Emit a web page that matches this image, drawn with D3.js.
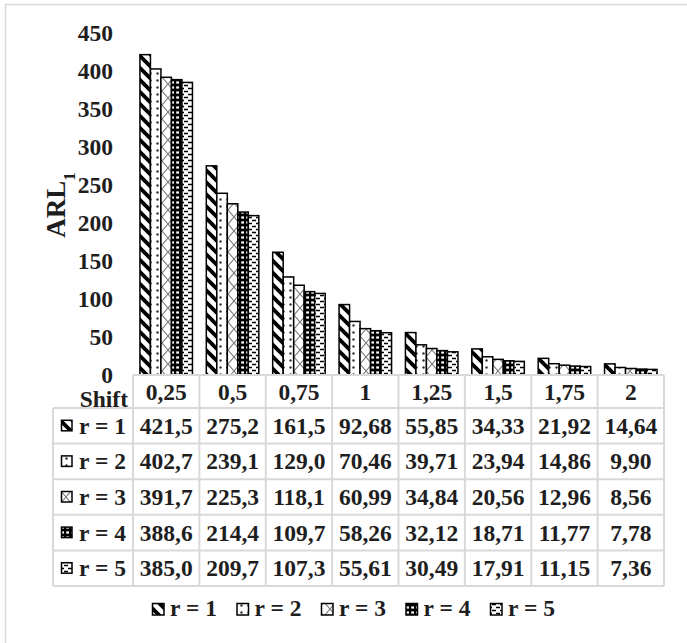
<!DOCTYPE html>
<html><head><meta charset="utf-8">
<script src="https://cdn.jsdelivr.net/npm/d3@7"></script>
<style>
html,body{margin:0;padding:0;background:#fff;overflow:hidden;}
svg{display:block;}
text{font-family:"Liberation Serif","Times New Roman",serif;font-weight:bold;fill:#1e1e1e;}
</style></head>
<body><svg id="c" width="687" height="643"></svg>
<script>
const categories = ["0,25","0,5","0,75","1","1,25","1,5","1,75","2"];
const seriesNames = ["r = 1","r = 2","r = 3","r = 4","r = 5"];
const r1 = [421.5,275.2,161.5,92.68,55.85,34.33,21.92,14.64];
const r2 = [402.7,239.1,129.0,70.46,39.71,23.94,14.86,9.90];
const r3 = [391.7,225.3,118.1,60.99,34.84,20.56,12.96,8.56];
const r4 = [388.6,214.4,109.7,58.26,32.12,18.71,11.77,7.78];
const r5 = [385.0,209.7,107.3,55.61,30.49,17.91,11.15,7.36];
const yTicks = [0,50,100,150,200,250,300,350,400,450];
const seriesValues = [r1,r2,r3,r4,r5];

const svg = d3.select("#c");
const fmt = v => (v >= 100 ? v.toFixed(1) : v.toFixed(2)).replace(".", ",");
const FS = "23.5px";

// patterns
const defs = svg.append("defs");
function pat(id, w, h, build){
  const p = defs.append("pattern").attr("id", id).attr("patternUnits","userSpaceOnUse")
    .attr("width", w).attr("height", h);
  build(p);
}
pat("p1", 12, 12, p => {
  p.append("rect").attr("width",12).attr("height",12).attr("fill","#fff");
  p.append("path").attr("d","M-3,-3L15,15M-3,9L3,15M9,-3L15,3").attr("stroke","#000").attr("stroke-width",3.8);
});
pat("p2", 7, 7, p => {
  p.append("rect").attr("width",7).attr("height",7).attr("fill","#fff");
  p.append("circle").attr("cx",3.5).attr("cy",3.5).attr("r",1.2).attr("fill","#333");
});
pat("p3", 12, 14, p => {
  p.append("rect").attr("width",12).attr("height",14).attr("fill","#fff");
  p.append("path").attr("d","M0,0L12,14M12,0L0,14").attr("stroke","#777").attr("stroke-width",1.1);
});
pat("p4", 5, 5, p => {
  p.append("rect").attr("width",5).attr("height",5).attr("fill","#000");
  p.append("rect").attr("x",1.2).attr("y",1.4).attr("width",2.8).attr("height",2.2).attr("fill","#fff");
});
pat("p5", 8, 6, p => {
  p.append("rect").attr("width",8).attr("height",6).attr("fill","#fff");
  p.append("path").attr("d","M0,1.5H4M4,4.5H8").attr("stroke","#000").attr("stroke-width",1.4);
});
const patIds = ["p1","p2","p3","p4","p5"];

// outer border (top and left only visible)
svg.append("path").attr("d","M687,4.5H5.5V643")
  .attr("fill","none").attr("stroke","#d9d9d9").attr("stroke-width",1.5);

const tableLeft = 53, colStart = 133, colEnd = 664;
const x0 = d3.scaleBand().domain(categories).range([colStart, colEnd]).padding(0);
const x1 = d3.scaleBand().domain(seriesNames).range([0, x0.bandwidth()]).paddingInner(0).paddingOuter(0.66);
const y = d3.scaleLinear().domain([0,450]).range([375,33]);

// y axis labels
const yAxis = d3.axisLeft(y).tickValues(yTicks).tickSize(0).tickPadding(0);
const gy = svg.append("g").attr("transform","translate(113,0)").call(yAxis);
gy.select(".domain").remove();
gy.selectAll("text").style("font-size",FS).attr("fill","#1e1e1e").style("font-family","Liberation Serif").style("font-weight","bold");

// y title
svg.append("text").attr("transform","translate(65,205) rotate(-90)").attr("text-anchor","middle")
  .style("font-size","27px")
  .call(t => { t.append("tspan").text("ARL");
               t.append("tspan").text("1").attr("baseline-shift","sub").style("font-size","17px"); });

// bars
seriesValues.forEach((vals, si) => {
  svg.append("g").selectAll("rect").data(vals).join("rect")
    .attr("x", (d,i) => x0(categories[i]) + x1(seriesNames[si]))
    .attr("y", d => y(d))
    .attr("width", x1.bandwidth())
    .attr("height", d => y(0) - y(d))
    .attr("fill", `url(#${patIds[si]})`)
    .attr("stroke","#000").attr("stroke-width",1.5);
});

// table
const headTop = 375, headBot = 408, rowH = 35.6;
const rowTop = i => headBot + i*rowH;
const tableBot = rowTop(5);
const gridC = "#d9d9d9";
const tg = svg.append("g");
tg.append("line").attr("x1",colStart).attr("x2",colEnd).attr("y1",headTop).attr("y2",headTop);
for (let i=0;i<=5;i++) tg.append("line").attr("x1",tableLeft).attr("x2",colEnd).attr("y1",rowTop(i)).attr("y2",rowTop(i));
tg.append("line").attr("x1",tableLeft).attr("x2",tableLeft).attr("y1",headBot).attr("y2",tableBot);
categories.forEach(c => tg.append("line").attr("x1",x0(c)).attr("x2",x0(c)).attr("y1",headTop).attr("y2",tableBot));
tg.append("line").attr("x1",colEnd).attr("x2",colEnd).attr("y1",headTop).attr("y2",tableBot);
tg.selectAll("line").attr("stroke",gridC).attr("stroke-width",2);

// header
svg.append("g").selectAll("text").data(categories).join("text")
  .attr("x", c => x0(c) + x0.bandwidth()/2).attr("y", (headTop+headBot)/2 + 8)
  .attr("text-anchor","middle").style("font-size",FS).text(c => c);
svg.append("text").attr("x",128).attr("y",407).attr("text-anchor","end").style("font-size",FS).text("Shift");

// rows
seriesValues.forEach((vals, si) => {
  const cy = rowTop(si) + rowH/2;
  svg.append("rect").attr("x",61.5).attr("y",cy-5.5).attr("width",10.5).attr("height",10.5)
    .attr("fill",`url(#${patIds[si]})`).attr("stroke","#000").attr("stroke-width",1.5);
  svg.append("text").attr("x",79).attr("y",cy+8).style("font-size",FS).text(seriesNames[si]);
  svg.append("g").selectAll("text").data(vals).join("text")
    .attr("x",(d,i) => x0(categories[i]) + x0.bandwidth()/2).attr("y", cy+8)
    .attr("text-anchor","middle").style("font-size",FS).text(d => fmt(d));
});

// legend
const lg = svg.append("g");
seriesNames.forEach((s, si) => {
  const lx = 152 + si*84.5;
  lg.append("rect").attr("x",lx+0.5).attr("y",603.5).attr("width",11.5).attr("height",11.5)
    .attr("fill",`url(#${patIds[si]})`).attr("stroke","#000").attr("stroke-width",1.5);
  lg.append("text").attr("x",lx+18).attr("y",616).style("font-size",FS).text(s);
});
</script></body></html>
